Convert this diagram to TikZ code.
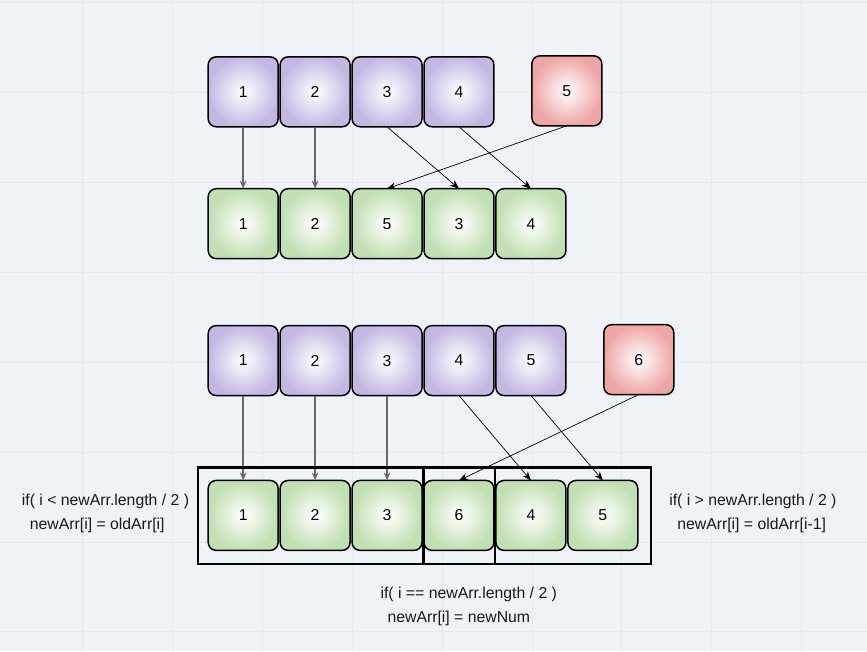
\documentclass[tikz,border=0pt]{standalone}
\usepackage{fontspec}
\setmainfont{Liberation Sans}
\usepackage{tikz}
\usetikzlibrary{arrows,arrows.meta,shapes}
\usetikzlibrary{positioning}
\usetikzlibrary{calc}
\definecolor{bgcol}{RGB}{239,243,247}
\definecolor{gridcol}{RGB}{229,233,238}
\definecolor{oldcol}{RGB}{196,184,227}
\definecolor{newcol}{RGB}{192,223,178}
\definecolor{addcol}{RGB}{238,165,165}
\definecolor{movecol}{RGB}{105,105,105}
\tikzstyle{cell}=[draw=black, line width=1.5pt, rounded corners=8pt,
                minimum size=70pt, outer sep=0pt, inner sep=0pt,
                text=black, shade, inner color=white]
\tikzstyle{oldcell}=[cell, outer color=oldcol]
\tikzstyle{newcell}=[cell, outer color=newcol]
\tikzstyle{addcell}=[cell, outer color=addcol]
\tikzstyle{keep}=[draw=movecol, line width=1.5pt,
                -{Stealth[length=8pt,width=6.5pt,inset=2.5pt]}]
\tikzstyle{slant}=[draw=black, line width=0.7pt,
                -{Stealth[length=9pt,width=7pt,inset=3pt]}]
\tikzstyle{frame}=[draw=black, line width=2.2pt]
\tikzstyle{rule}=[anchor=west, align=left, text=black!90]

\begin{document}
\begin{tikzpicture}[x=1pt, y=-1pt, node distance=2pt,
  every node/.append style={font=\fontsize{15.8}{24}\selectfont}]
% background and grid
\fill[bgcol] (0,0) rectangle (867,651);
\foreach \x in {82,172,...,862}
  \draw[gridcol, line width=0.8pt] (\x,0) -- (\x,651);
\foreach \y in {2,92,...,632}
  \draw[gridcol, line width=0.8pt] (0,\y) -- (867,\y);

% first example: insert 5
\node[oldcell] at (243,91.5) (a1) {1};
\node[oldcell, right=of a1] (a2) {2};
\node[oldcell, right=of a2] (a3) {3};
\node[oldcell, right=of a3] (a4) {4};
\node[addcell] at (567,90.5) (n1) {5};

\node[newcell] at (243,223.5) (b1) {1};
\node[newcell, right=of b1] (b2) {2};
\node[newcell, right=of b2] (b3) {5};
\node[newcell, right=of b3] (b4) {3};
\node[newcell, right=of b4] (b5) {4};

\foreach \s in {1,2}
  \draw[keep] (a\s) -- (b\s);
\draw[slant] (a3.south) -- (b4.north);
\draw[slant] (a4.south) -- (b5.north);
\draw[slant] (n1.south) -- (b3.north);

% second example: insert 6
\node[oldcell] at (243,360.5) (c1) {1};
\node[oldcell, right=of c1] (c2) {2};
\node[oldcell, right=of c2] (c3) {3};
\node[oldcell, right=of c3] (c4) {4};
\node[oldcell, right=of c4] (c5) {5};
\node[addcell] at (639,359.5) (n2) {6};

\node[newcell] at (243,515.5) (d1) {1};
\node[newcell, right=of d1] (d2) {2};
\node[newcell, right=of d2] (d3) {3};
\node[newcell, right=of d3] (d4) {6};
\node[newcell, right=of d4] (d5) {4};
\node[newcell, right=of d5] (d6) {5};

\foreach \s in {1,2,3}
  \draw[keep] (c\s) -- (d\s);
\draw[slant] (c4.south) -- (d5.north);
\draw[slant] (c5.south) -- (d6.north);
\draw[slant] (n2.south) -- (d4.north);

% the three parts of the new array
\draw[frame] ($(d1.north west)+(-10,-13)$) rectangle ($(d3.south east)+(1.5,14)$);
\draw[frame] ($(d4.north west)+(0,-13)$) rectangle ($(d4.south east)+(1,14)$);
\draw[frame] ($(d5.north west)+(-1,-13)$) rectangle ($(d6.south east)+(13,14)$);

\node[rule] at (18,513.5) (lower) {if( i < newArr.length / 2 )\\\hspace{8pt}newArr[i] = oldArr[i]};
\node[rule] at (666,513.5) (upper) {if( i > newArr.length / 2 )\\\hspace{8pt}newArr[i] = oldArr[i-1]};
\node[rule] at (377,607) (middle) {if( i == newArr.length / 2 )\\\hspace{7pt}newArr[i] = newNum};
\end{tikzpicture}
\end{document}
